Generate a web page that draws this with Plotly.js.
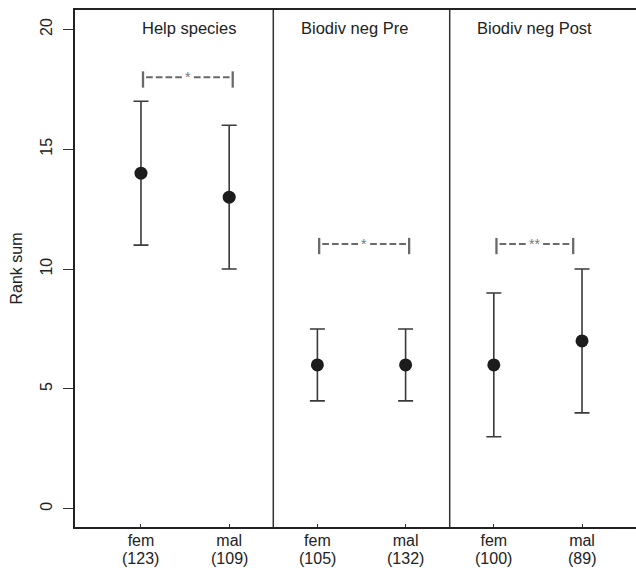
<!DOCTYPE html>
<html>
<head>
<meta charset="utf-8">
<script src="https://cdn.plot.ly/plotly-3.0.1.min.js"></script>
<style>html,body{margin:0;padding:0;background:#fff;}#chart{width:636px;height:568px;}</style>
</head>
<body>
<div id="chart"></div>
<script>
// ---- data ----
const panels = ["Help species", "Biodiv neg Pre", "Biodiv neg Post"];
const sexes = ["fem", "mal", "fem", "mal", "fem", "mal"];
const nCounts = [123, 109, 105, 132, 100, 89];
const rankSum = [14, 13, 6, 6, 6, 7];
const upperQ = [17, 16, 7.5, 7.5, 9, 10];
const lowerQ = [11, 10, 4.5, 4.5, 3, 4];
const sigLabels = ["*", "*", "**"];
const sigLevel = [18, 11.05, 11.05];
const yTicks = [0, 5, 10, 15, 20];

const xPos = sexes.map((_, i) => i + 1);

const FONT = "Liberation Sans, Arial, Helvetica, sans-serif";
const INK = "#222222";
const GREY = "#6a6a6a";

const trace = {
  type: "scatter",
  mode: "markers",
  x: xPos,
  y: rankSum,
  marker: {size: 13, color: "#1c1c1c"},
  error_y: {
    type: "data",
    symmetric: false,
    array: upperQ.map((u, i) => u - rankSum[i]),
    arrayminus: rankSum.map((m, i) => m - lowerQ[i]),
    color: "#3a3a3a",
    thickness: 1.6,
    width: 7.5
  },
  hoverinfo: "skip",
  showlegend: false
};

const shapes = [];
const annotations = [];

// panel separators
[2.5, 4.5].forEach(xv => shapes.push({
  type: "line", xref: "x", yref: "paper", x0: xv, x1: xv, y0: 0, y1: 1,
  line: {color: "#333", width: 1.5}
}));

// panel titles
const titleX = [1.55, 3.42, 5.46];
panels.forEach((p, k) => annotations.push({
  x: titleX[k], y: 20.05, xref: "x", yref: "y", text: p, showarrow: false,
  font: {family: FONT, size: 16.5, color: INK}, xanchor: "center", yanchor: "middle"
}));

// group sizes under the tick labels
nCounts.forEach((n, i) => annotations.push({
  x: xPos[i], y: 0, xref: "x", yref: "paper", yshift: -31.5, text: "(" + n + ")",
  showarrow: false, font: {family: FONT, size: 16, color: INK},
  xanchor: "center", yanchor: "middle"
}));

// significance brackets
const brL = [1.023, 3.02, 5.03];
const brR = [2.04, 4.04, 5.90];
sigLabels.forEach((lab, k) => {
  const y = sigLevel[k];
  const mid = (brL[k] + brR[k]) / 2;
  const gap = lab.length > 1 ? 0.094 : 0.068;
  [brL[k], brR[k]].forEach(xv => shapes.push({
    type: "line", xref: "x", yref: "y", x0: xv, x1: xv, y0: y - 0.43, y1: y + 0.25,
    line: {color: GREY, width: 2.3}
  }));
  shapes.push({type: "line", xref: "x", yref: "y", x0: brL[k] + 0.035, x1: mid - gap, y0: y, y1: y,
    line: {color: GREY, width: 2, dash: "6.7px,3px"}});
  shapes.push({type: "line", xref: "x", yref: "y", x0: mid + gap, x1: brR[k] - 0.035, y0: y, y1: y,
    line: {color: GREY, width: 2, dash: "6.7px,3px"}});
  annotations.push({
    x: mid, y: y, xref: "x", yref: "y", text: lab, showarrow: false,
    font: {family: FONT, size: 14, color: "#777"}, xanchor: "center", yanchor: "middle"
  });
});

const layout = {
  width: 636, height: 568,
  margin: {l: 75, r: 0, t: 10, b: 41, pad: 0},
  paper_bgcolor: "#fff", plot_bgcolor: "#fff",
  font: {family: FONT, size: 16, color: INK},
  showlegend: false,
  xaxis: {
    range: [0.252, 6.612],
    tickvals: xPos, ticktext: sexes,
    ticks: "inside", ticklen: 3, tickcolor: "#333", tickwidth: 1,
    ticklabelstandoff: -2,
    showline: true, linecolor: "#222", linewidth: 1.6, mirror: true,
    showgrid: false, zeroline: false, automargin: false,
    tickfont: {family: FONT, size: 16, color: INK}
  },
  yaxis: {
    range: [-0.764, 20.81],
    tickvals: yTicks, ticktext: yTicks.map(String),
    tickangle: -90,
    ticks: "outside", ticklen: 10, tickcolor: "#333", tickwidth: 1,
    ticklabelstandoff: 5,
    showline: true, linecolor: "#222", linewidth: 1.6,
    showgrid: false, zeroline: false, automargin: false,
    tickfont: {family: FONT, size: 16, color: INK},
    title: {text: "Rank sum", font: {family: FONT, size: 16, color: INK}, standoff: 11}
  },
  shapes: shapes,
  annotations: annotations
};

Plotly.newPlot("chart", [trace], layout, {displayModeBar: false, staticPlot: true});
</script>
</body>
</html>
